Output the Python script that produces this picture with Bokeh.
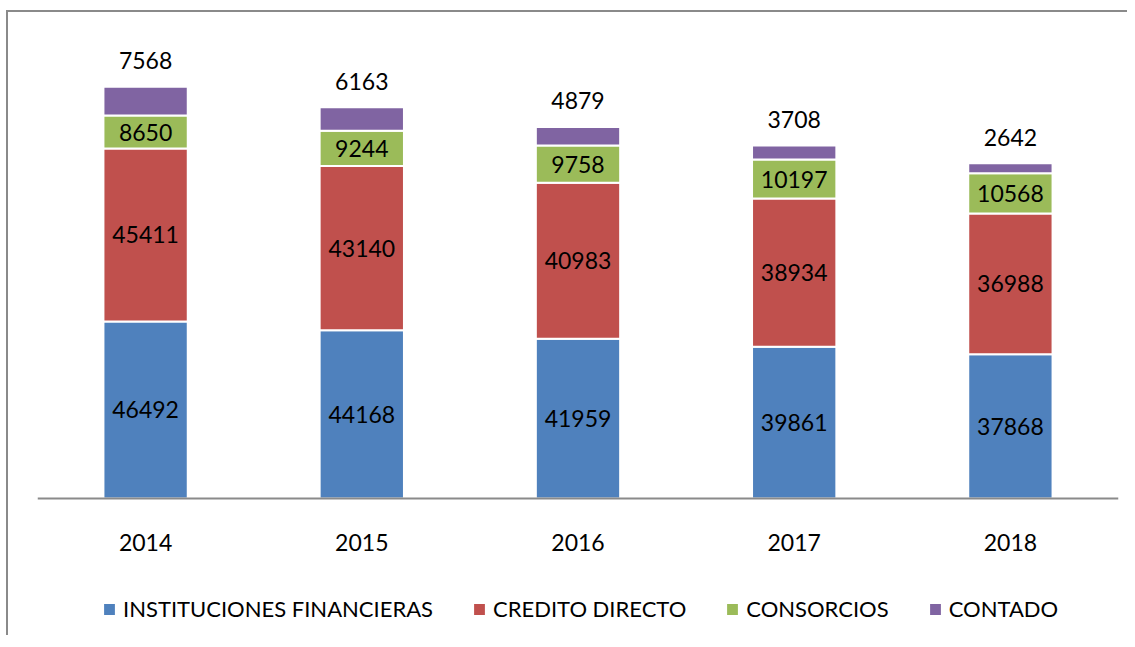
from bokeh.plotting import figure
from bokeh.models import ColumnDataSource, Legend, LegendItem, Range1d, FactorRange
from bokeh.core.properties import value
from bokeh.embed import file_html
from bokeh.resources import INLINE

years = ["2014", "2015", "2016", "2017", "2018"]
instituciones = [46492, 44168, 41959, 39861, 37868]
credito = [45411, 43140, 40983, 38934, 36988]
consorcios = [8650, 9244, 9758, 10197, 10568]
contado = [7568, 6163, 4879, 3708, 2642]

series_names = ["INSTITUCIONES FINANCIERAS", "CREDITO DIRECTO", "CONSORCIOS", "CONTADO"]
keys = ["inst", "cred", "cons", "cont"]
colors = ["#4F81BD", "#C0504D", "#9BBB59", "#8064A2"]

data = dict(years=years, inst=instituciones, cred=credito, cons=consorcios, cont=contado)
# label positions derived from data
b2 = list(instituciones)
b3 = [a + b for a, b in zip(instituciones, credito)]
b4 = [a + b for a, b in zip(b3, consorcios)]
tot = [a + b for a, b in zip(b4, contado)]
data["m1"] = [a / 2 for a in instituciones]
data["m2"] = [a + b / 2 for a, b in zip(b2, credito)]
data["m3"] = [a + b / 2 for a, b in zip(b3, consorcios)]
data["tot"] = tot
data["l1"] = [str(v) for v in instituciones]
data["l2"] = [str(v) for v in credito]
data["l3"] = [str(v) for v in consorcios]
data["l4"] = [str(v) for v in contado]
src = ColumnDataSource(data)

FONT = "Lato"

# layout: plot area 476 px above the baseline, 137 px below it (room for years + legend)
PX_ABOVE, PX_BELOW, Y_TOP = 476, 137, 125000
y_bottom = -Y_TOP * PX_BELOW / PX_ABOVE

p = figure(x_range=FactorRange(*years, range_padding=0.0), y_range=Range1d(y_bottom, Y_TOP),
           frame_width=1081, frame_height=PX_ABOVE + PX_BELOW, output_backend="svg",
           toolbar_location=None,
           min_border_left=29, min_border_right=9, min_border_top=10, min_border_bottom=0)
p.styles = {"border-top": "2px solid #8a8a8a", "border-left": "2px solid #8a8a8a",
            "margin-top": "10px", "margin-left": "6px"}

rs = p.vbar_stack(keys, x="years", width=0.39, color=colors, source=src,
                  line_color="white", line_width=2)

text_kw = dict(text_font=value(FONT), text_font_size="23px", text_color="black",
               text_align="center", text_baseline="middle", source=src)
p.text(x="years", y="m1", text="l1", **text_kw)
p.text(x="years", y="m2", text="l2", **text_kw)
p.text(x="years", y="m3", text="l3", **text_kw)
p.text(x="years", y="tot", text="l4", y_offset=-26, **text_kw)

p.yaxis.visible = False
p.xgrid.visible = False
p.ygrid.visible = False
p.outline_line_color = None
p.background_fill_color = "white"

ax = p.xaxis[0]
ax.fixed_location = 0
ax.axis_line_color = "#8a8a8a"
ax.axis_line_width = 2
ax.major_tick_line_color = None
ax.minor_tick_line_color = None
ax.major_tick_out = 0
ax.major_label_text_font = FONT
ax.major_label_text_font_size = "23px"
ax.major_label_text_color = "black"
ax.major_label_standoff = 35

items = [LegendItem(label=n, renderers=[r]) for n, r in zip(series_names, rs)]
legend = Legend(items=items, orientation="horizontal", location=(64, 13),
                label_text_font=FONT, label_text_font_size="22px", label_text_color="black",
                glyph_width=16, glyph_height=16, label_standoff=6, spacing=38,
                border_line_color=None, padding=0, margin=0,
                background_fill_alpha=0)
p.add_layout(legend, "center")

open("out.html", "w").write(file_html(p, INLINE))
